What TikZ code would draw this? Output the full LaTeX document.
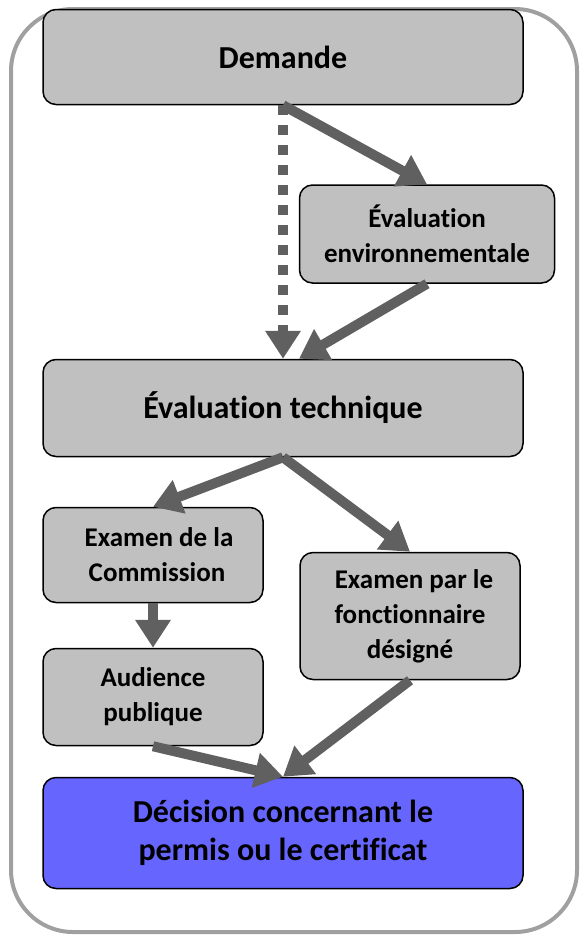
\documentclass[tikz,border=0pt]{standalone}
\usepackage{fontspec}
\setmainfont[Ligatures=NoCommon]{Carlito}
\usetikzlibrary{arrows.meta}

\definecolor{boxgray}{HTML}{C0C0C0}
\definecolor{arrowgray}{HTML}{606060}
\definecolor{framegray}{HTML}{A0A0A0}
\definecolor{decblue}{HTML}{6666FF}

\tikzset{
  stage/.style={draw, rounded corners=13pt, fill=boxgray, line width=1.5pt, align=center, inner sep=0pt},
  wide/.style={minimum width=480pt, font=\bfseries\fontsize{32}{38}\selectfont},
  small/.style={minimum width=220pt, font=\bfseries\fontsize{27}{35}\selectfont},
  flow/.style={line width=10pt, draw=arrowgray, -{Triangle[width=34pt,length=28pt]}},
}

\begin{document}
\begin{tikzpicture}[x=1pt, y=-1pt]
  \useasboundingbox (0,0) rectangle (580,937);

  % outer frame
  \draw[framegray, line width=4pt, rounded corners=62pt] (11,9) rectangle (577,932);

  % stages
  \node[stage, wide, minimum height=95pt] (dem) at (283,57) {Demande};
  \node[stage, small, minimum width=255pt, minimum height=98pt] (env) at (427,234) {Évaluation\\environnementale};
  \node[stage, wide, minimum height=97pt] (tech) at (283,408) {Évaluation technique};
  \node[stage, small, minimum height=95pt] (com) at (153,555) {\hspace*{12pt}Examen de la\\\hspace*{8pt}Commission};
  \node[stage, small, minimum height=127pt] (fon) at (410,616) {\hspace*{8pt}Examen par le\\fonctionnaire\\désigné};
  \node[stage, small, minimum height=97pt] (aud) at (153,697) {Audience\\publique};
  \node[stage, wide, fill=decblue, minimum height=111pt] (dec) at (283,833) {Décision concernant le\\permis ou le certificat};

  % flows
  \draw[flow] (dem.south) -- (env.north);
  \draw[flow, dash pattern=on 10pt off 10pt] (dem.south) -- (tech.north);
  \draw[flow] (env.south) -- ([xshift=16pt]tech.north);
  \draw[flow] (tech.south) -- (com.north);
  \draw[flow] (tech.south) -- (fon.north);
  \draw[flow] (com.south) -- (aud.north);
  \draw[flow] (aud.south) -- (dec.north);
  \draw[flow] (fon.south) -- (dec.north);
\end{tikzpicture}
\end{document}
